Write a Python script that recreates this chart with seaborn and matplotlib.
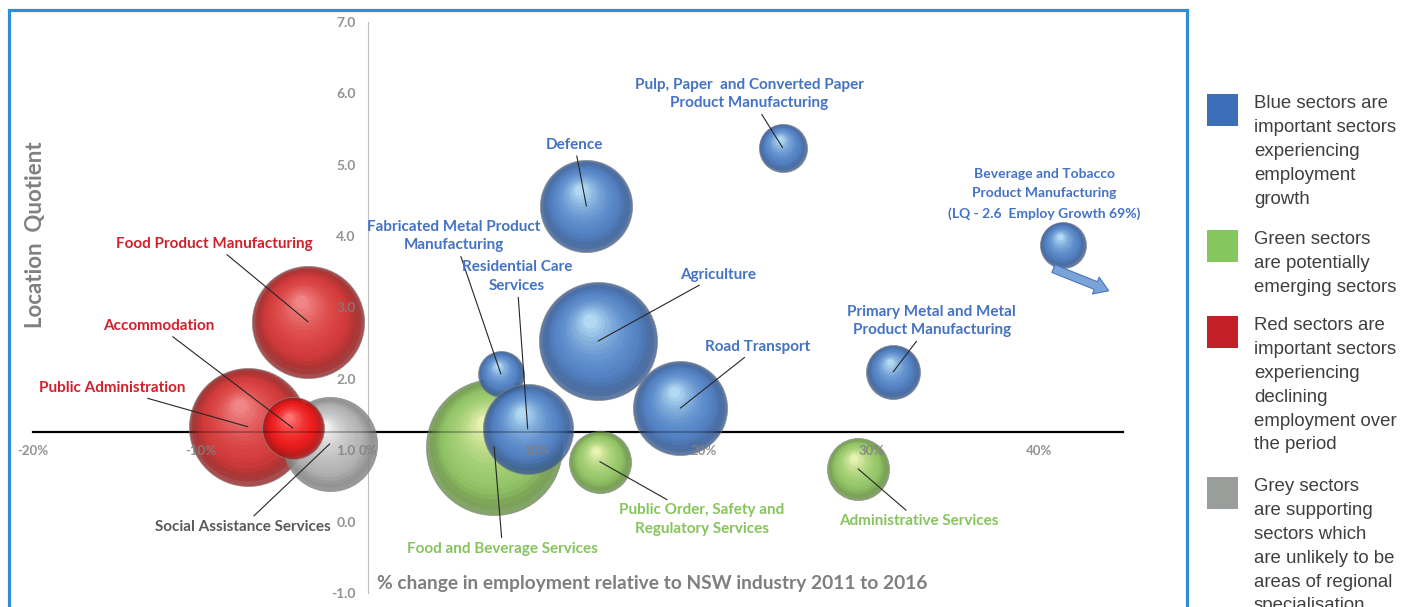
import numpy as np
import pandas as pd
import matplotlib
matplotlib.use("Agg")
import matplotlib.pyplot as plt
import matplotlib.colors as mcolors
from matplotlib.transforms import offset_copy
from matplotlib.patches import Rectangle
import seaborn as sns

# ---- data ----
sectors = [
    "Public Administration", "Social Assistance Services", "Accommodation",
    "Food Product Manufacturing", "Food and Beverage Services",
    "Fabricated Metal Product Manufacturing", "Residential Care Services",
    "Agriculture", "Defence", "Road Transport",
    "Public Order, Safety and Regulatory Services",
    "Pulp, Paper and Converted Paper Product Manufacturing",
    "Primary Metal and Metal Product Manufacturing",
    "Administrative Services", "Beverage and Tobacco Product Manufacturing",
]
emp_change = [-7.2, -2.3, -4.5, -3.6, 7.5, 7.9, 9.5, 13.7, 13.0, 18.6, 13.8, 24.7, 31.3, 29.2, 41.4]
loc_quot = [1.33, 1.09, 1.31, 2.80, 1.05, 2.07, 1.30, 2.53, 4.42, 1.59, 0.84, 5.24, 2.10, 0.74, 3.88]
employment = [3480, 2210, 960, 3140, 4620, 530, 2030, 3480, 2120, 2210, 960, 580, 730, 960, 530]
group = ["red", "grey", "red_bright", "red", "green", "blue", "blue", "blue", "blue",
         "blue", "green", "blue", "blue", "green", "blue"]

x_ticks = [-20, -10, 0, 10, 20, 30, 40]
y_ticks = [-1, 0, 1, 2, 3, 4, 5, 6, 7]

df = pd.DataFrame({"sector": sectors, "change": emp_change, "lq": loc_quot,
                   "emp": employment, "group": group})

# sphere shading: (dark rim, body, highlight)
shades = {
    "blue": ("#36598f", "#5685c8", "#bfe6f8"),
    "green": ("#658f42", "#97c96a", "#f4f8bc"),
    "red": ("#922222", "#d83c3c", "#f49090"),
    "red_bright": ("#aa1414", "#ee1c1c", "#ff8080"),
    "grey": ("#808080", "#b8b8b8", "#fafafa"),
}
palette = {g: c[0] for g, c in shades.items()}
text_col = {"blue": "#4472c4", "green": "#86c45c", "red": "#d0202c", "grey": "#595959"}

AREA_MAX = 9600  # marker area (pt^2) of the largest bubble
NORM_MAX = max(employment)

plt.rcParams["font.family"] = ["Lato", "DejaVu Sans"]
fig = plt.figure(figsize=(14.02, 6.07), dpi=100)
ax = fig.add_axes([33 / 1402, 14 / 607, 1090 / 1402, 571 / 607])

ax.set_xlim(-20, 45)
ax.set_ylim(-1, 7)


def mix(c1, c2, t):
    a = np.array(mcolors.to_rgb(c1))
    b = np.array(mcolors.to_rgb(c2))
    return tuple(a + (b - a) * t)


n_layers = 16
for i, row in df.iterrows():
    z = 3 + i
    dark, body, light = shades[row.group]
    sns.scatterplot(data=df.iloc[[i]], x="change", y="lq", hue="group", palette=palette,
                    size="emp", sizes=(0, AREA_MAX), size_norm=(0, NORM_MAX),
                    edgecolor="#8a8a8a", linewidth=0.6, alpha=0.8, legend=False,
                    zorder=z, ax=ax)
    s_full = AREA_MAX * row.emp / NORM_MAX
    r_pt = np.sqrt(s_full) / 2
    for k in range(1, n_layers + 1):
        f = 1 - 0.88 * k / n_layers
        if f > 0.8:
            col = mix(dark, body, (1 - f) / 0.2)
        else:
            col = mix(body, light, ((0.8 - f) / 0.68) ** 1.7)
        off = (1 - f) * 0.42 * r_pt
        tr = offset_copy(ax.transData, fig=fig, x=-0.35 * off, y=0.94 * off, units="points")
        ax.scatter([row.change], [row.lq], s=s_full * f ** 2, color=col, alpha=0.5,
                   linewidths=0, transform=tr, zorder=z)

# faint axis line seen through the translucent bubbles
ax.axhline(1.25, color="black", lw=1.2, alpha=0.3, zorder=25)

# ---- axes styling ----
for sp in ["top", "right"]:
    ax.spines[sp].set_visible(False)
ax.spines["left"].set_position(("data", 0))
ax.spines["left"].set_color("#bfbfbf")
ax.spines["left"].set_linewidth(0.8)
ax.spines["bottom"].set_position(("data", 1.25))
ax.spines["bottom"].set_color("black")
ax.spines["bottom"].set_linewidth(1.6)
ax.xaxis.set_zorder(30)
ax.yaxis.set_zorder(30)

ax.set_xticks(x_ticks)
ax.set_xticklabels([f"{v}%" for v in x_ticks])
ax.set_yticks(y_ticks)
ax.set_yticklabels([f"{v:.1f}" for v in y_ticks])
ax.tick_params(axis="x", length=0, pad=9, labelsize=9.5, labelcolor="#808080")
ax.tick_params(axis="y", length=0, pad=9, labelsize=10, labelcolor="#808080")
for lab in ax.get_xticklabels() + ax.get_yticklabels():
    lab.set_fontweight("bold")
    lab.set_alpha(0.85)
ax.set_xlabel("")
ax.set_ylabel("")

ax.text(0.002, 0.627, "Location  Quotient", transform=ax.transAxes, rotation=90,
        ha="center", va="center", fontsize=16, fontweight="bold", color="#808080")
ax.text(0.5, -0.86, "% change in employment relative to NSW industry 2011 to 2016",
        ha="left", va="center", fontsize=13.8, fontweight="bold", color="#7f7f7f")

# ---- labels with leader lines ----
labels = [
    ("Food Product Manufacturing", "red", 3, (-9.2, 3.89), "center", True),
    ("Accommodation", "red", 2, (-12.5, 2.74), "center", True),
    ("Public Administration", "red", 0, (-15.3, 1.87), "center", True),
    ("Social Assistance Services", "grey", 1, (-7.5, -0.07), "center", True),
    ("Fabricated Metal Product\nManufacturing", "blue", 5, (5.1, 4.0), "center", True),
    ("Residential Care\nServices", "blue", 6, (8.85, 3.43), "center", True),
    ("Defence", "blue", 8, (12.3, 5.28), "center", True),
    ("Pulp, Paper  and Converted Paper\nProduct Manufacturing", "blue", 11, (22.7, 5.99), "center", True),
    ("Agriculture", "blue", 7, (18.6, 3.46), "left", True),
    ("Road Transport", "blue", 9, (20.1, 2.45), "left", True),
    ("Primary Metal and Metal\nProduct Manufacturing", "blue", 12, (33.6, 2.81), "center", True),
    ("Beverage and Tobacco\nProduct Manufacturing\n(LQ - 2.6  Employ Growth 69%)", "blue", 14,
     (40.3, 4.59), "center", False),
    ("Food and Beverage Services", "green", 4, (8.0, -0.38), "center", True),
    ("Public Order, Safety and\nRegulatory Services", "green", 10, (19.9, 0.03), "center", True),
    ("Administrative Services", "green", 13, (32.8, 0.01), "center", True),
]
for text, g, idx, pos, ha, leader in labels:
    target = (df.change[idx], df.lq[idx])
    props = dict(arrowstyle="-", color="#262626", lw=0.8, shrinkA=1, shrinkB=0) if leader else None
    fs, ls = (10, 1.7) if idx == 14 else (11, 1.42)
    ax.annotate(text, xy=target, xytext=pos, ha=ha, va="center", fontsize=fs,
                fontweight="bold", color=text_col[g], linespacing=ls,
                arrowprops=props, zorder=40, multialignment="center")

# off-scale arrow for Beverage and Tobacco
bx, by = df.change[14], df.lq[14]
ax.annotate("", xy=(bx + 2.9, by - 0.66), xytext=(bx - 0.7, by - 0.32),
            arrowprops=dict(arrowstyle="simple,head_width=1.3,head_length=1.0,tail_width=0.6",
                            fc="#7aa3da", ec="#4a76b8", lw=0.8), zorder=30)

# ---- outer frame ----
fig.add_artist(Rectangle((9 / 1402, -0.05), 1178 / 1402, 1.05 - 10 / 607,
                         transform=fig.transFigure, fill=False, ec="#2b8ed6", lw=2.3))

# ---- side legend ----
legend_items = [
    ("#3d6fb8", "Blue sectors are\nimportant sectors\nexperiencing\nemployment\ngrowth", 94),
    ("#86c65e", "Green sectors\nare potentially\nemerging sectors", 230),
    ("#c21f26", "Red sectors are\nimportant sectors\nexperiencing\ndeclining\nemployment over\nthe period", 316),
    ("#9a9e9a", "Grey sectors\nare supporting\nsectors which\nare unlikely to be\nareas of regional\nspecialisation", 477),
]
for col, txt, top in legend_items:
    fig.add_artist(Rectangle((1207 / 1402, 1 - (top + 32) / 607), 31 / 1402, 32 / 607,
                             transform=fig.transFigure, fc=col, ec="none"))
    fig.text(1254 / 1402, 1 - (top + 1) / 607, txt, ha="left", va="top", fontsize=13.4,
             family=["Liberation Sans", "DejaVu Sans"], color="#3f3f3f", linespacing=1.53)

fig.savefig("out.png", dpi=100, facecolor="white")
